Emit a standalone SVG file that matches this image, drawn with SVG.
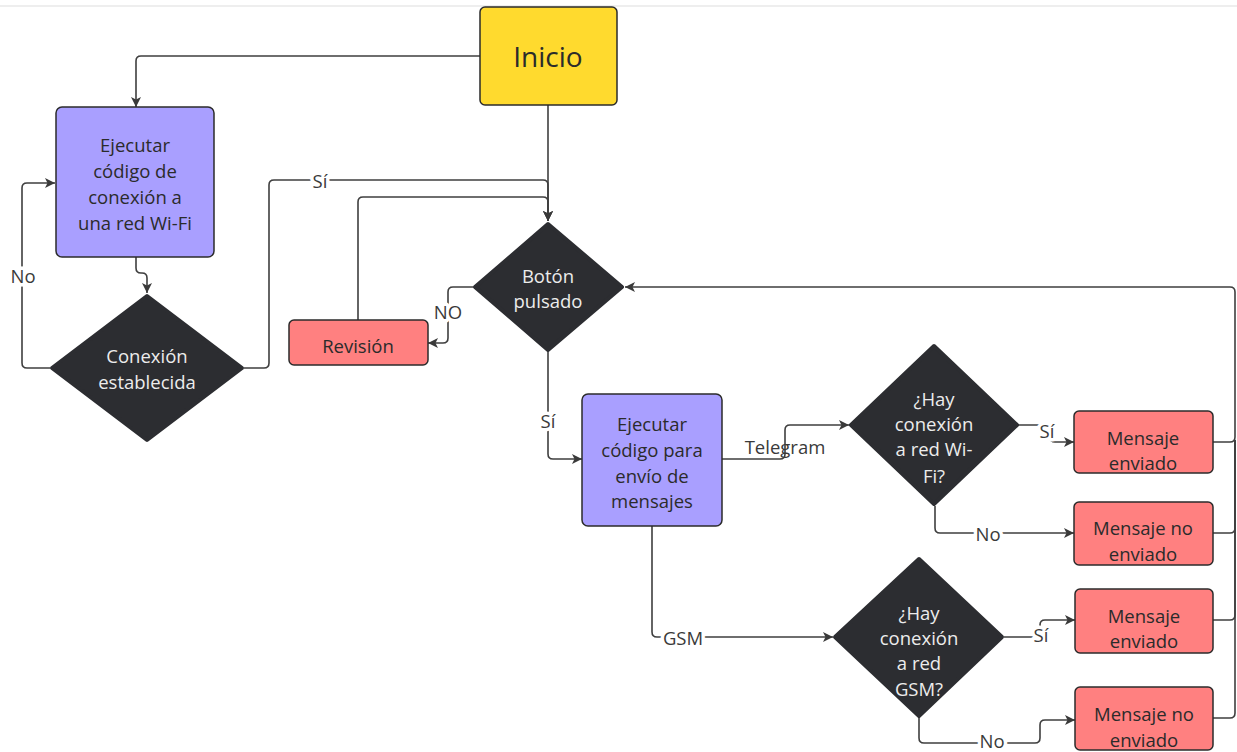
<svg xmlns="http://www.w3.org/2000/svg" width="1237" height="752" viewBox="0 0 1237 752">
<defs>
<marker id="arr" viewBox="0 0 10 10" refX="10" refY="5" markerWidth="10" markerHeight="10" markerUnits="userSpaceOnUse" orient="auto">
<path d="M0,0 L10,5 L0,10 L2.5,5 z" fill="#3a3a3a"/>
</marker>
<style>
.t{font-family:"Open Sans","Liberation Sans",sans-serif;font-size:18.5px;text-anchor:middle;dominant-baseline:central;fill:#2b2b2b}
.w{fill:#ececec}
.lbl{font-family:"Open Sans","Liberation Sans",sans-serif;font-size:18.5px;text-anchor:middle;dominant-baseline:central;fill:#3a3a3a;stroke:#fff;stroke-width:7px;paint-order:stroke;stroke-linejoin:round}
.c{fill:none;stroke:#3f3f3f;stroke-width:1.6}
.purple{fill:#a99fff;stroke:#2b2b2b;stroke-width:1.5}
.red{fill:#ff8080;stroke:#2b2b2b;stroke-width:1.5}
.dia{fill:#2c2d31;stroke:#2c2d31;stroke-width:4;stroke-linejoin:round}
</style>
</defs>
<rect width="1237" height="752" fill="#fff"/>
<line x1="0" y1="6" x2="1237" y2="6" stroke="#e8e8e8" stroke-width="1.5"/>

<g id="connectors">
<path class="c" d="M480,56 H141 Q136,56 136,61 V107" marker-end="url(#arr)"/>
<path class="c" d="M548,105 V221" marker-end="url(#arr)"/>
<path class="c" d="M244,368 H264 Q269,368 269,363 V185 Q269,180 274,180 H543 Q548,180 548,185 V221" marker-end="url(#arr)"/>
<path class="c" d="M358,320 V202 Q358,197 363,197 H543 Q548,197 548,202 V221" marker-end="url(#arr)"/>
<path class="c" d="M136,257 V268 Q136,273 141,273 H142 Q147,273 147,278 V293" marker-end="url(#arr)"/>
<path class="c" d="M50,368 H27 Q22,368 22,363 V188 Q22,183 27,183 H55" marker-end="url(#arr)"/>
<path class="c" d="M473,287 H453 Q448,287 448,292 V338 Q448,343 443,343 H428" marker-end="url(#arr)"/>
<path class="c" d="M548,352 V454 Q548,459 553,459 H582" marker-end="url(#arr)"/>
<path class="c" d="M722,459 H780 Q785,459 785,454 V430 Q785,425 790,425 H849" marker-end="url(#arr)"/>
<path class="c" d="M652,526 V632 Q652,637 657,637 H833" marker-end="url(#arr)"/>
<path class="c" d="M1018,425 H1045 Q1050,425 1050,430 V437 Q1050,442 1055,442 H1074" marker-end="url(#arr)"/>
<path class="c" d="M935,506 V528 Q935,533 940,533 H1074" marker-end="url(#arr)"/>
<path class="c" d="M1004,637 H1035 Q1040,637 1040,632 V625 Q1040,620 1045,620 H1075" marker-end="url(#arr)"/>
<path class="c" d="M919,718 V738 Q919,743 924,743 H1035 Q1040,743 1040,738 V725 Q1040,720 1045,720 H1075" marker-end="url(#arr)"/>
<path class="c" d="M1213,442 H1230 Q1235,442 1235,437 V292 Q1235,287 1230,287 H625" marker-end="url(#arr)"/>
<path class="c" d="M1213,533 H1230 Q1235,533 1235,528 V440"/>
<path class="c" d="M1213,620 H1230 Q1235,620 1235,615 V440"/>
<path class="c" d="M1213,718 H1230 Q1235,718 1235,713 V440"/>
<text class="lbl" x="23" y="275">No</text>
<text class="lbl" x="320" y="180">Sí</text>
<text class="lbl" x="448" y="311">NO</text>
<text class="lbl" x="548" y="420">Sí</text>
<text class="lbl" x="785" y="446" style="stroke:none">Telegram</text>
<text class="lbl" x="683" y="637">GSM</text>
<text class="lbl" x="1047" y="430">Sí</text>
<text class="lbl" x="988" y="533">No</text>
<text class="lbl" x="1041" y="634">Sí</text>
<text class="lbl" x="992" y="740">No</text>
</g>

<g id="inicio">
<rect x="480" y="7" width="137" height="98" rx="5" fill="#ffda2e" stroke="#2b2b2b" stroke-width="1.5"/>
<text class="t" x="548" y="56" style="font-size:28px">Inicio</text>
</g>

<g id="ejecutar-wifi">
<rect class="purple" x="56" y="107" width="158" height="150" rx="6"/>
<text class="t" x="135" y="144">Ejecutar</text>
<text class="t" x="135" y="170">código de</text>
<text class="t" x="135" y="196">conexión a</text>
<text class="t" x="135" y="222">una red Wi-Fi</text>
</g>

<g id="conexion-establecida">
<polygon class="dia" points="147,296 242,368 147,440 52,368"/>
<text class="t w" x="147" y="355">Conexión</text>
<text class="t w" x="147" y="381">establecida</text>
</g>

<g id="boton-pulsado">
<polygon class="dia" points="548,224 622,287 548,350 475,287"/>
<text class="t w" x="548" y="275">Botón</text>
<text class="t w" x="548" y="300">pulsado</text>
</g>

<g id="revision">
<rect class="red" x="289" y="320" width="139" height="45" rx="5"/>
<text class="t" x="358" y="345">Revisión</text>
</g>

<g id="ejecutar-envio">
<rect class="purple" x="582" y="394" width="140" height="132" rx="6"/>
<text class="t" x="652" y="423">Ejecutar</text>
<text class="t" x="652" y="449">código para</text>
<text class="t" x="652" y="475">envío de</text>
<text class="t" x="652" y="500">mensajes</text>
</g>

<g id="hay-wifi">
<polygon class="dia" points="934,346 1017,425 934,504 851,425"/>
<text class="t w" x="934" y="398">¿Hay</text>
<text class="t w" x="934" y="423">conexión</text>
<text class="t w" x="934" y="448">a red Wi-</text>
<text class="t w" x="934" y="475">Fi?</text>
</g>

<g id="hay-gsm">
<polygon class="dia" points="919,559 1002,637 919,716 835,637"/>
<text class="t w" x="919" y="612">¿Hay</text>
<text class="t w" x="919" y="637">conexión</text>
<text class="t w" x="919" y="662">a red</text>
<text class="t w" x="919" y="688">GSM?</text>
</g>

<g id="wifi-enviado">
<rect class="red" x="1074" y="411" width="139" height="62" rx="5"/>
<text class="t" x="1143" y="437">Mensaje</text>
<text class="t" x="1143" y="462">enviado</text>
</g>

<g id="wifi-no-enviado">
<rect class="red" x="1074" y="502" width="139" height="63" rx="5"/>
<text class="t" x="1143" y="527">Mensaje no</text>
<text class="t" x="1143" y="553">enviado</text>
</g>

<g id="gsm-enviado">
<rect class="red" x="1075" y="589" width="138" height="64" rx="5"/>
<text class="t" x="1144" y="615">Mensaje</text>
<text class="t" x="1144" y="640">enviado</text>
</g>

<g id="gsm-no-enviado">
<rect class="red" x="1075" y="687" width="138" height="63" rx="5"/>
<text class="t" x="1144" y="713">Mensaje no</text>
<text class="t" x="1144" y="739">enviado</text>
</g>
</svg>
